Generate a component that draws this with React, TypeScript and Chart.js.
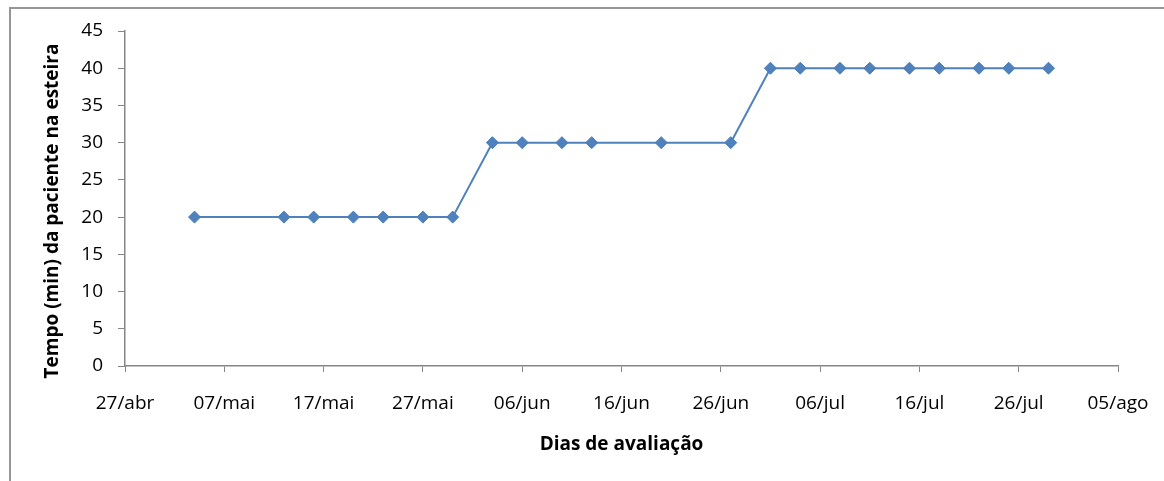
import React, { useEffect, useRef } from "react";
import { Chart, registerables } from "chart.js";

Chart.register(...registerables);

const axisStart = "2012-04-27";
const axisEnd = "2012-08-05";
const dates = [
  "2012-05-04", "2012-05-13", "2012-05-16", "2012-05-20", "2012-05-23", "2012-05-27", "2012-05-30",
  "2012-06-03", "2012-06-06", "2012-06-10", "2012-06-13", "2012-06-20", "2012-06-27",
  "2012-07-01", "2012-07-04", "2012-07-08", "2012-07-11", "2012-07-15", "2012-07-18",
  "2012-07-22", "2012-07-25", "2012-07-29",
];
const tempo = [20, 20, 20, 20, 20, 20, 20, 30, 30, 30, 30, 30, 30, 40, 40, 40, 40, 40, 40, 40, 40, 40];
const monthNames = ["jan", "fev", "mar", "abr", "mai", "jun", "jul", "ago", "set", "out", "nov", "dez"];
const xTitle = "Dias de avaliação";
const yTitle = "Tempo (min) da paciente na esteira";

const DAY = 86400000;
const toUTC = (s: string) => {
  const [y, m, d] = s.split("-").map(Number);
  return Date.UTC(y, m - 1, d);
};
const base = toUTC(axisStart);
const dayOf = (s: string) => Math.round((toUTC(s) - base) / DAY);
const fmt = (v: number) => {
  const dt = new Date(base + v * DAY);
  const dd = String(dt.getUTCDate()).padStart(2, "0");
  return dd + "/" + monthNames[dt.getUTCMonth()];
};

const W = 1164;
const H = 481;
const titleFont = "bold 19px 'Open Sans'";

const framePlugin = {
  id: "frame",
  beforeDraw(chart: any) {
    const ctx = chart.ctx;
    ctx.save();
    ctx.fillStyle = "#ffffff";
    ctx.fillRect(0, 0, W, H);
    ctx.fillStyle = "#969696";
    ctx.fillRect(9, 7, W, 2);
    ctx.fillRect(9, 7, 2, H);
    ctx.restore();
  },
  afterDraw(chart: any) {
    const ctx = chart.ctx;
    ctx.save();
    ctx.translate(52.5, 211);
    ctx.rotate(-Math.PI / 2);
    ctx.font = titleFont;
    ctx.fillStyle = "#000000";
    ctx.textAlign = "center";
    ctx.textBaseline = "middle";
    ctx.fillText(yTitle, 0, 0);
    ctx.restore();
  },
};

export default function App() {
  const ref = useRef<HTMLCanvasElement | null>(null);
  useEffect(() => {
    if (!ref.current) return;
    const points = dates.map((d, i) => ({ x: dayOf(d), y: tempo[i] }));
    const chart = new Chart(ref.current, {
      type: "line",
      data: {
        datasets: [
          {
            data: points,
            borderColor: "#4F81BD",
            borderWidth: 2,
            backgroundColor: "#4F81BD",
            pointStyle: "rectRot",
            pointRadius: 6,
            pointBorderWidth: 1,
            pointBorderColor: "#4A7EBB",
            pointBackgroundColor: "#4F81BD",
            tension: 0,
          },
        ],
      },
      options: {
        animation: false,
        responsive: false,
        devicePixelRatio: 1,
        layout: { padding: { left: 0, top: 31, right: 46, bottom: 0 } },
        plugins: { legend: { display: false }, tooltip: { enabled: false } },
        scales: {
          x: {
            type: "linear",
            min: 0,
            max: dayOf(axisEnd),
            afterFit: (s: any) => {
              s.height = H - 366;
              s.paddingLeft = 0;
              s.paddingRight = 0;
            },
            ticks: {
              stepSize: 10,
              autoSkip: false,
              maxRotation: 0,
              padding: 20,
              color: "#000000",
              font: { family: "'Open Sans'", size: 19 },
              callback: (v: any) => fmt(Number(v)),
            },
            grid: {
              drawOnChartArea: false,
              drawTicks: true,
              tickLength: 6,
              color: "#868686",
            },
            border: { color: "#868686", width: 1.5 },
            title: {
              display: true,
              text: xTitle,
              color: "#000000",
              font: { family: "'Open Sans'", size: 19, weight: "bold" },
              padding: { top: 0, bottom: 25 },
            },
          },
          y: {
            min: 0,
            max: 45,
            afterFit: (s: any) => {
              s.width = 125;
              s.paddingTop = 0;
              s.paddingBottom = 0;
            },
            ticks: {
              stepSize: 5,
              padding: 15,
              color: "#000000",
              font: { family: "'Open Sans'", size: 19 },
            },
            grid: {
              drawOnChartArea: false,
              drawTicks: true,
              tickLength: 7,
              color: "#868686",
            },
            border: { color: "#868686", width: 1.5 },
            title: { display: false, text: yTitle },
          },
        },
      },
      plugins: [framePlugin],
    });
    return () => chart.destroy();
  }, []);
  return (
    <div style={{ position: "fixed", left: 0, top: 0, width: W, height: H }}>
      <canvas ref={ref} width={W} height={H} style={{ width: W, height: H, display: "block" }} />
    </div>
  );
}
